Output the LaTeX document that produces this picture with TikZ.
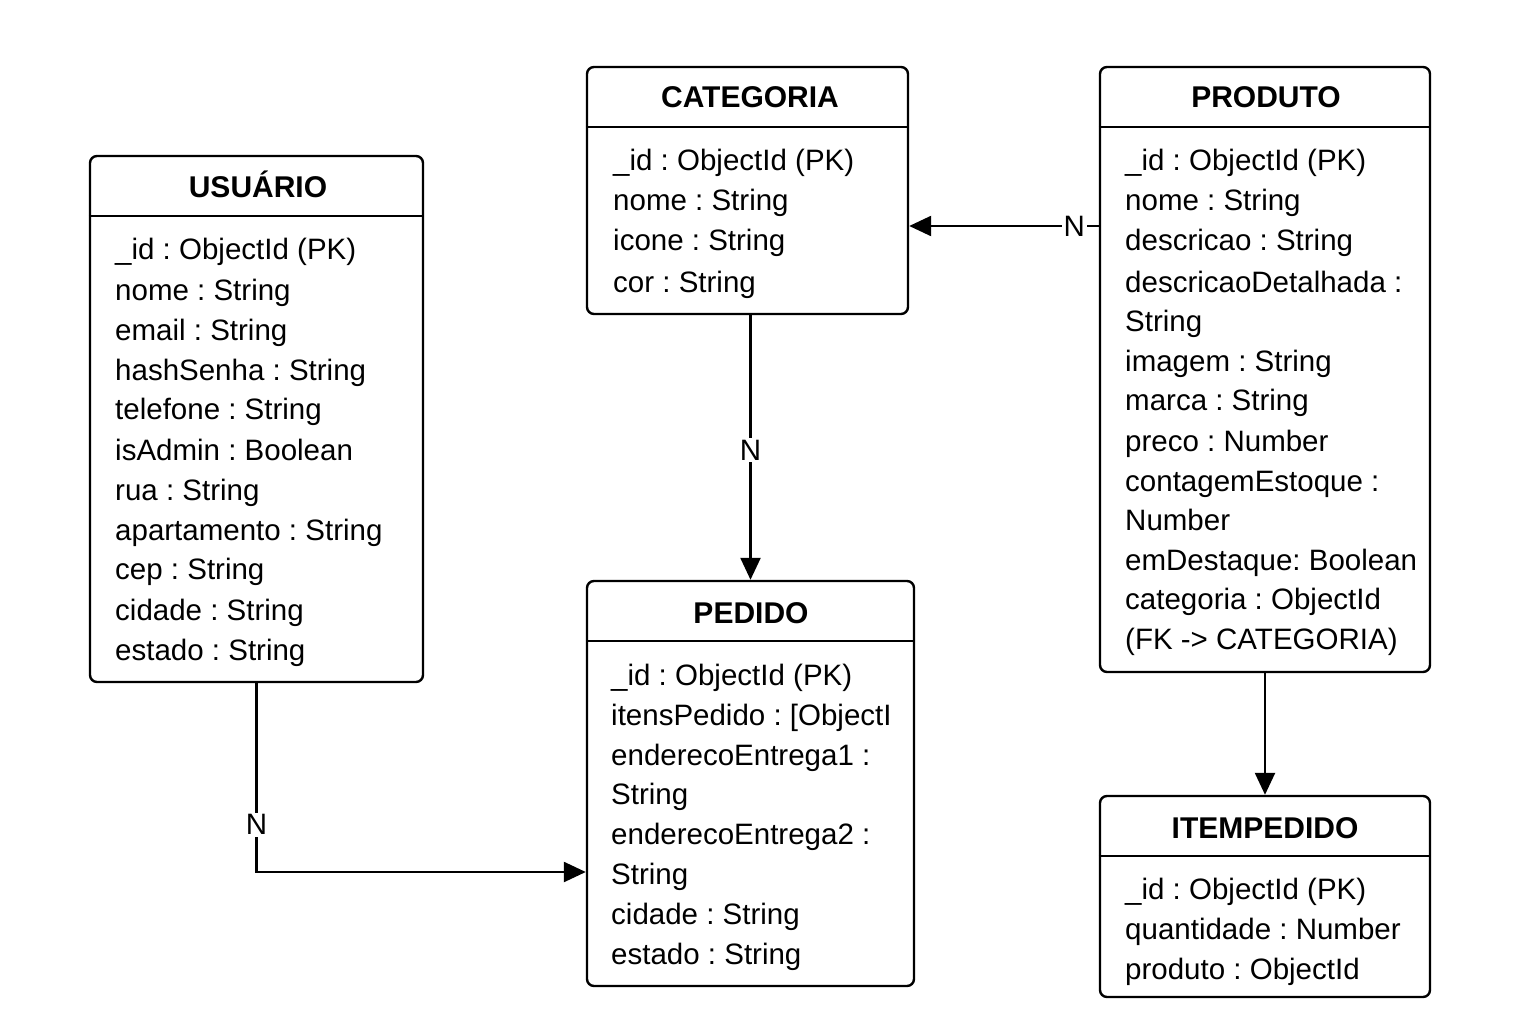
\documentclass[tikz,border=0pt]{standalone}
\usepackage{fontspec}
\setmainfont{Liberation Sans}
\usetikzlibrary{arrows.meta}
\frenchspacing
\begin{document}
\begin{tikzpicture}[x=1pt,y=-1pt,
  entity/.style={draw, line width=2.4pt, rounded corners=7pt, inner sep=0pt},
  ttl/.style={font=\fontsize{30}{36}\selectfont\bfseries, anchor=base, inner sep=0pt},
  fld/.style={font=\fontsize{29.5}{35}\selectfont, anchor=base west, inner sep=0pt},
  lbl/.style={font=\fontsize{29.5}{35}\selectfont, fill=white, inner sep=2pt},
  conn/.style={line width=2.4pt},
  arr/.style={conn, -{Triangle[length=22pt,width=20pt]}}
]
\useasboundingbox (0,0) rectangle (1536,1024);
\fill[white] (0,0) rectangle (1536,1024);

% USUARIO
\node[entity, minimum width=333pt, minimum height=526pt] (usuario) at (256.5,419) {};
\draw[line width=2.4pt] (usuario.west |- 0,216) -- (usuario.east |- 0,216);
\node[ttl] (usuarioT) at (258,198) {USUÁRIO};
\node[fld] (u1) at (115,260) {\_id : ObjectId (PK)};
\node[fld] (u2) at (115,300) {nome : String};
\node[fld] (u3) at (115,340) {email : String};
\node[fld] (u4) at (115,380) {hashSenha : String};
\node[fld] (u5) at (115,419) {telefone : String};
\node[fld] (u6) at (115,460) {isAdmin : Boolean};
\node[fld] (u7) at (115,500) {rua : String};
\node[fld] (u8) at (115,540) {apartamento : String};
\node[fld] (u9) at (115,579) {cep : String};
\node[fld] (u10) at (115,620) {cidade : String};
\node[fld] (u11) at (115,660) {estado : String};

% CATEGORIA
\node[entity, minimum width=321pt, minimum height=247pt] (categoria) at (747.5,190.5) {};
\draw[line width=2.4pt] (categoria.west |- 0,127) -- (categoria.east |- 0,127);
\node[ttl] (categoriaT) at (750,108) {CATEGORIA};
\node[fld] (c1) at (613,171) {\_id : ObjectId (PK)};
\node[fld] (c2) at (613,211) {nome : String};
\node[fld] (c3) at (613,251) {icone : String};
\node[fld] (c4) at (613,292) {cor : String};

% PRODUTO
\node[entity, minimum width=330pt, minimum height=605pt] (produto) at (1265,369.5) {};
\draw[line width=2.4pt] (produto.west |- 0,127) -- (produto.east |- 0,127);
\node[ttl] (produtoT) at (1266,108) {PRODUTO};
\node[fld] (p1) at (1125,171) {\_id : ObjectId (PK)};
\node[fld] (p2) at (1125,211) {nome : String};
\node[fld] (p3) at (1125,251) {descricao : String};
\node[fld] (p4) at (1125,292) {descricaoDetalhada :};
\node[fld] (p5) at (1125,331) {String};
\node[fld] (p6) at (1125,371) {imagem : String};
\node[fld] (p7) at (1125,410) {marca : String};
\node[fld] (p8) at (1125,451) {preco : Number};
\node[fld] (p9) at (1125,491) {contagemEstoque :};
\node[fld] (p10) at (1125,530) {Number};
\node[fld] (p11) at (1125,570) {emDestaque: Boolean};
\node[fld] (p12) at (1125,609) {categoria : ObjectId};
\node[fld] (p13) at (1125,649) {(FK -> CATEGORIA)};

% PEDIDO
\node[entity, minimum width=327pt, minimum height=405pt] (pedido) at (750.5,783.5) {};
\draw[line width=2.4pt] (pedido.west |- 0,641) -- (pedido.east |- 0,641);
\node[ttl] (pedidoT) at (751,623) {PEDIDO};
\node[fld] (d1) at (611,685) {\_id : ObjectId (PK)};
\node[fld] (d2) at (611,725) {itensPedido : [ObjectI};
\node[fld] (d3) at (611,765) {enderecoEntrega1 :};
\node[fld] (d4) at (611,804) {String};
\node[fld] (d5) at (611,844) {enderecoEntrega2 :};
\node[fld] (d6) at (611,884) {String};
\node[fld] (d7) at (611,924) {cidade : String};
\node[fld] (d8) at (611,964) {estado : String};

% ITEMPEDIDO
\node[entity, minimum width=330pt, minimum height=201pt] (itempedido) at (1265,896.5) {};
\draw[line width=2.4pt] (itempedido.west |- 0,856) -- (itempedido.east |- 0,856);
\node[ttl] (itempedidoT) at (1265,838) {ITEMPEDIDO};
\node[fld] (i1) at (1125,899) {\_id : ObjectId (PK)};
\node[fld] (i2) at (1125,939) {quantidade : Number};
\node[fld] (i3) at (1125,979) {produto : ObjectId};

% connectors
\draw[arr] (produto.west |- 0,226) -- node[lbl, pos=0.13] (n1) {N} (categoria.east |- 0,226);
\draw[arr] (categoria.south -| pedido.north) -- node[lbl, pos=0.51] (n2) {N} (pedido.north);
\coordinate (bend) at (usuario.south |- 0,872);
\draw[arr] (usuario.south) -- node[lbl, pos=0.75] (n3) {N} (bend) -- (pedido.west |- bend);
\draw[arr] (produto.south) -- (itempedido.north);
\end{tikzpicture}
\end{document}
